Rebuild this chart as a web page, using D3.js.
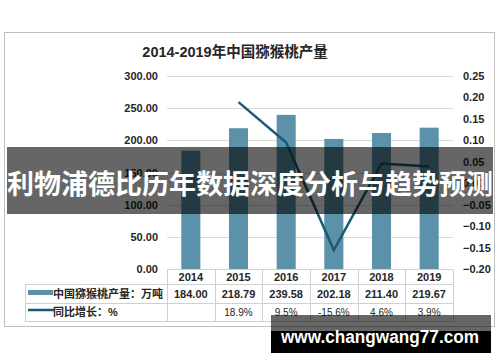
<!DOCTYPE html>
<html><head><meta charset="utf-8">
<script src="https://cdn.jsdelivr.net/npm/d3@7"></script>
<style>
html,body{margin:0;padding:0;background:#fff;}
svg{display:block;}
text{font-family:"Liberation Sans","Noto Sans CJK SC",Arial,sans-serif;}
</style></head><body>
<svg id="c" width="500" height="362"></svg>
<script>
const years = ["2014","2015","2016","2017","2018","2019"];
const production = [184.00, 218.79, 239.58, 202.18, 211.40, 219.67];
const productionLabels = ["184.00","218.79","239.58","202.18","211.40","219.67"];
const growth = [null, 0.189, 0.095, -0.156, 0.046, 0.039];
const growthLabels = ["", "18.9%", "9.5%", "-15.6%", "4.6%", "3.9%"];
const leftTicks = [0, 50, 100, 150, 200, 250, 300];
const rightTicks = [-0.20, -0.15, -0.10, -0.05, 0.00, 0.05, 0.10, 0.15, 0.20, 0.25];
const seriesNames = ["中国猕猴桃产量：万吨", "同比增长：%"];
const title = "2014-2019年中国猕猴桃产量";
const bannerText = "利物浦德比历年数据深度分析与趋势预测";
const watermark = "www.changwang77.com";

const barColor = "#5b92a9", lineColor = "#1b5a72", txt = "#262626", grid = "#d9d9d9";
const svg = d3.select("#c");
const L = 167, R = 453, T = 76, B = 269;

// outer box
svg.append("rect").attr("x",4.5).attr("y",32.5).attr("width",490).attr("height",294)
  .attr("fill","#fff").attr("stroke","#bfbfbf").attr("stroke-width",1);

svg.append("text").attr("x",235).attr("y",57).attr("text-anchor","middle")
  .attr("font-size",14.5).attr("font-weight","bold").attr("fill",txt).text(title);

const x = d3.scaleBand().domain(years).range([L,R]).paddingInner(0).paddingOuter(0);
const yL = d3.scaleLinear().domain([0,300]).range([B,T]);
const yR = d3.scaleLinear().domain([-0.20,0.25]).range([B,T]);

// gridlines
svg.append("g").selectAll("line").data(leftTicks.filter(d=>d>0)).join("line")
  .attr("x1",L).attr("x2",R).attr("y1",d=>Math.round(yL(d))+0.5).attr("y2",d=>Math.round(yL(d))+0.5)
  .attr("stroke",grid).attr("stroke-width",1);

// left axis
const la = svg.append("g").attr("transform",`translate(${L-9},0)`)
  .call(d3.axisLeft(yL).tickValues(leftTicks).tickFormat(d3.format(".2f")).tickSize(0).tickPadding(0));
la.select(".domain").remove();
la.selectAll("text").attr("font-size",11).attr("font-weight","bold").attr("fill",txt)
  .attr("font-family","Liberation Sans, Arial, sans-serif");

// right axis
const ra = svg.append("g").attr("transform",`translate(${R+10},0)`)
  .call(d3.axisRight(yR).tickValues(rightTicks).tickFormat(d3.format(".2f")).tickSize(0).tickPadding(0));
ra.select(".domain").remove();
ra.selectAll("text").attr("font-size",11).attr("font-weight","bold").attr("fill",txt)
  .attr("font-family","Liberation Sans, Arial, sans-serif");

// bars
const bw = x.bandwidth()*0.4;
svg.append("g").selectAll("rect").data(production).join("rect")
  .attr("x",(d,i)=>x(years[i])+x.bandwidth()/2-bw/2).attr("width",bw)
  .attr("y",d=>yL(d)).attr("height",d=>yL(0)-yL(d)).attr("fill",barColor);

// line
const pts = growth.map((g,i)=>({g,yr:years[i]})).filter(d=>d.g!==null);
svg.append("path").datum(pts)
  .attr("d",d3.line().x(d=>x(d.yr)+x.bandwidth()/2).y(d=>yR(d.g)))
  .attr("fill","none").attr("stroke",lineColor).attr("stroke-width",2.5).attr("stroke-linejoin","miter");

// table
const tb = svg.append("g").attr("stroke","#d0d0d0").attr("stroke-width",1);
const rowY = [269.5, 284.5, 303.5, 321.5];
tb.append("line").attr("x1",L).attr("x2",R).attr("y1",rowY[0]).attr("y2",rowY[0]);
[1,2,3].forEach(k=>tb.append("line").attr("x1",25).attr("x2",R).attr("y1",rowY[k]).attr("y2",rowY[k]));
tb.append("line").attr("x1",25.5).attr("x2",25.5).attr("y1",rowY[1]).attr("y2",rowY[3]);
const edges = years.map(d=>x(d)).concat([R]);
edges.forEach(e=>tb.append("line").attr("x1",Math.round(e)+0.5).attr("x2",Math.round(e)+0.5).attr("y1",rowY[0]).attr("y2",rowY[3]));

const cx = d => x(d)+x.bandwidth()/2;
svg.append("g").selectAll("text").data(years).join("text")
  .attr("x",d=>cx(d)).attr("y",281).attr("text-anchor","middle")
  .attr("font-size",11).attr("font-weight","bold").attr("fill",txt).text(d=>d);
svg.append("g").selectAll("text").data(productionLabels).join("text")
  .attr("x",(d,i)=>cx(years[i])).attr("y",298).attr("text-anchor","middle")
  .attr("font-size",11).attr("font-weight","bold").attr("fill",txt).text(d=>d);
svg.append("g").selectAll("text").data(growthLabels).join("text")
  .attr("x",(d,i)=>cx(years[i])).attr("y",316).attr("text-anchor","middle")
  .attr("font-size",10).attr("fill",txt).text(d=>d);

// legend cells
svg.append("rect").attr("x",28).attr("y",290).attr("width",25).attr("height",5).attr("fill",barColor);
svg.append("line").attr("x1",28).attr("x2",54).attr("y1",310).attr("y2",310).attr("stroke",lineColor).attr("stroke-width",2.5);
svg.append("clipPath").attr("id","lc").append("rect").attr("x",26).attr("y",284).attr("width",140).attr("height",38);
const lg = svg.append("g").attr("clip-path","url(#lc)");
lg.append("text").attr("x",53).attr("y",298).attr("font-size",11).attr("font-weight","bold").attr("fill",txt).text(seriesNames[0]);
lg.append("text").attr("x",53).attr("y",316).attr("font-size",11).attr("font-weight","bold").attr("fill",txt).text(seriesNames[1]);

// banner overlay
svg.append("rect").attr("x",7).attr("y",147).attr("width",486).attr("height",67).attr("fill","rgba(0,0,0,0.6)");
svg.append("text").attr("x",250).attr("y",185).attr("text-anchor","middle").attr("dominant-baseline","central")
  .attr("font-family","Noto Sans CJK SC, sans-serif").attr("font-size",27).attr("font-weight","bold")
  .attr("fill","#fff").text(bannerText);

// watermark
svg.append("rect").attr("x",271).attr("y",315).attr("width",220).attr("height",16).attr("fill","rgba(0,0,0,0.6)");
svg.append("rect").attr("x",271).attr("y",331).attr("width",220).attr("height",22).attr("fill","#000");
svg.append("text").attr("x",281).attr("y",343).attr("font-family","DejaVu Sans, sans-serif")
  .attr("font-size",18).attr("font-weight","bold").attr("fill","#fff")
  .attr("textLength",198).attr("lengthAdjust","spacingAndGlyphs").text(watermark);
</script>
</body></html>
